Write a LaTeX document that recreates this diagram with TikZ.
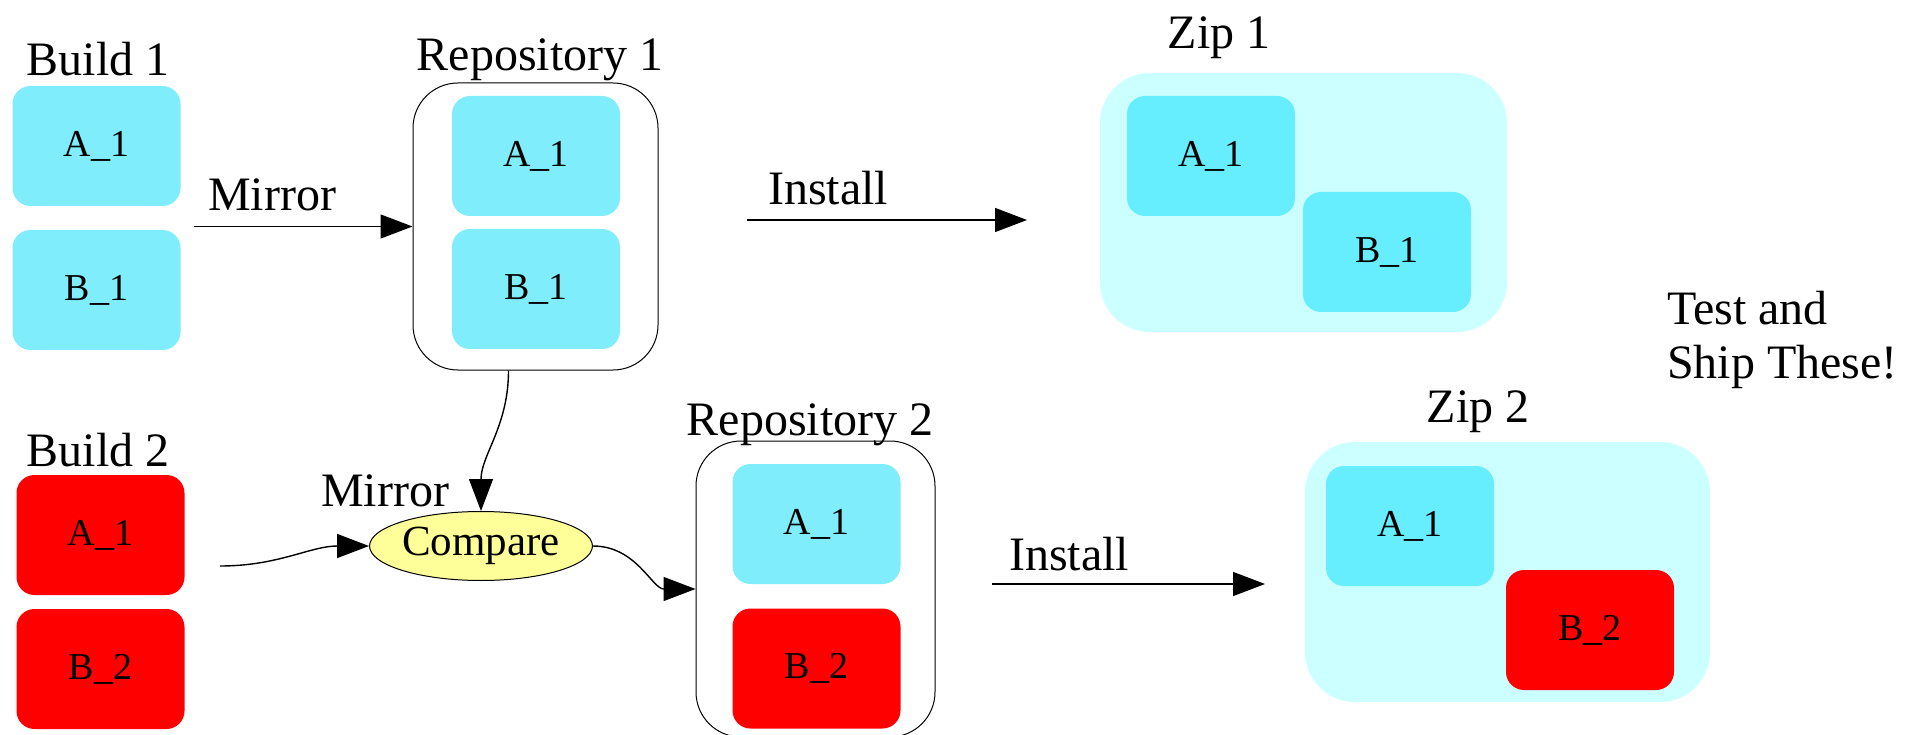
\documentclass[tikz,border=0pt]{standalone}
\usepackage{fontspec}
\setmainfont{Liberation Serif}
\usetikzlibrary{arrows.meta,shapes.geometric}
\definecolor{buildcyan}{RGB}{128,237,253}
\definecolor{zipcyan}{RGB}{102,238,255}
\definecolor{zipback}{RGB}{204,255,255}
\definecolor{cmpyellow}{RGB}{255,255,153}
\newcommand{\lblfont}{\fontsize{48}{54}\selectfont}
\newcommand{\pkgfont}{\fontsize{38}{44}\selectfont}
\newcommand{\cmpfont}{\fontsize{43}{48}\selectfont}

\begin{document}
\begin{tikzpicture}[x=1pt,y=-1pt,>={Triangle[length=32pt,width=24pt]}]
        \tikzstyle{pkg}=[rectangle,rounded corners=18pt,minimum width=168pt,minimum height=120pt,inner sep=0pt,font=\pkgfont]
        \tikzstyle{oldpkg}=[pkg,fill=buildcyan]
        \tikzstyle{newpkg}=[pkg,fill=red]
        \tikzstyle{zippkg}=[pkg,fill=zipcyan]
        \tikzstyle{repo}=[rectangle,draw=black,line width=1pt,rounded corners=45pt,inner sep=0pt]
        \tikzstyle{zip}=[rectangle,fill=zipback,rounded corners=50pt,inner sep=0pt]
        \tikzstyle{grouptitle}=[anchor=base,inner sep=0pt,font=\lblfont]
        \tikzstyle{flow}=[draw,->,line width=1.4pt]
        \useasboundingbox (0,0) rectangle (1912,735);

        % groups
        \node [repo,minimum width=245pt,minimum height=287pt] (repo1) at (535.5,226.5) {};
        \node [repo,minimum width=239pt,minimum height=296pt] (repo2) at (815.5,589) {};
        \node [zip,minimum width=407pt,minimum height=259pt] (zip1) at (1303.5,202.5) {};
        \node [zip,minimum width=405pt,minimum height=260pt] (zip2) at (1507.5,572) {};

        \node [grouptitle] (t_b1) at (98,76) {Build 1};
        \node [grouptitle] (t_b2) at (98,466) {Build 2};
        \node [grouptitle] (t_r1) at (540,71) {Repository 1};
        \node [grouptitle] (t_r2) at (810,435) {Repository 2};
        \node [grouptitle] (t_z1) at (1219,49) {Zip 1};
        \node [grouptitle] (t_z2) at (1478,422) {Zip 2};

        % packages
        \node [oldpkg] (b1a) at (96.5,146) {A\_1};
        \node [oldpkg] (b1b) at (96.5,290) {B\_1};
        \node [newpkg] (b2a) at (100.5,535) {A\_1};
        \node [newpkg] (b2b) at (100.5,669) {B\_2};
        \node [oldpkg] (r1a) at (536,156) {A\_1};
        \node [oldpkg] (r1b) at (536,289) {B\_1};
        \node [oldpkg] (r2a) at (816.5,524) {A\_1};
        \node [newpkg] (r2b) at (816.5,668.5) {B\_2};
        \node [zippkg] (z1a) at (1211,156) {A\_1};
        \node [zippkg] (z1b) at (1387,252) {B\_1};
        \node [zippkg] (z2a) at (1410,526) {A\_1};
        \node [newpkg] (z2b) at (1590,630) {B\_2};

        \node [ellipse,draw=black,line width=1pt,fill=cmpyellow,minimum width=220pt,minimum height=69pt,inner sep=0pt,font=\cmpfont] (cmp) at (481,546) {Compare};
        \node [anchor=west,align=left,inner sep=0pt,font=\lblfont] (ship) at (1667,340) {Test and\\Ship These!};

        % edge labels
        \node [grouptitle] (m1) at (272,211) {Mirror};
        \node [grouptitle] (m2) at (385,506) {Mirror};
        \node [grouptitle] (in1) at (828,205) {Install};
        \node [grouptitle] (in2) at (1069,570) {Install};

        \coordinate (b1out) at (194,226.5);
        \coordinate (b2out) at (220,566);
        \coordinate (i1s) at (747,220);
        \coordinate (i1e) at (1027,220);
        \coordinate (i2s) at (992,584);
        \coordinate (i2e) at (1265,584);

        \path[flow] (b1out) -- (repo1.west);
        \path[flow] (i1s) -- (i1e);
        \path[flow] ([xshift=-27pt]repo1.south) to[out=-90,in=90] (cmp.north);
        \path[flow] (b2out) to[out=0,in=180] (cmp.west);
        \path[flow] (cmp.east) to[out=0,in=180] (repo2.west);
        \path[flow] (i2s) -- (i2e);
\end{tikzpicture}
\end{document}
